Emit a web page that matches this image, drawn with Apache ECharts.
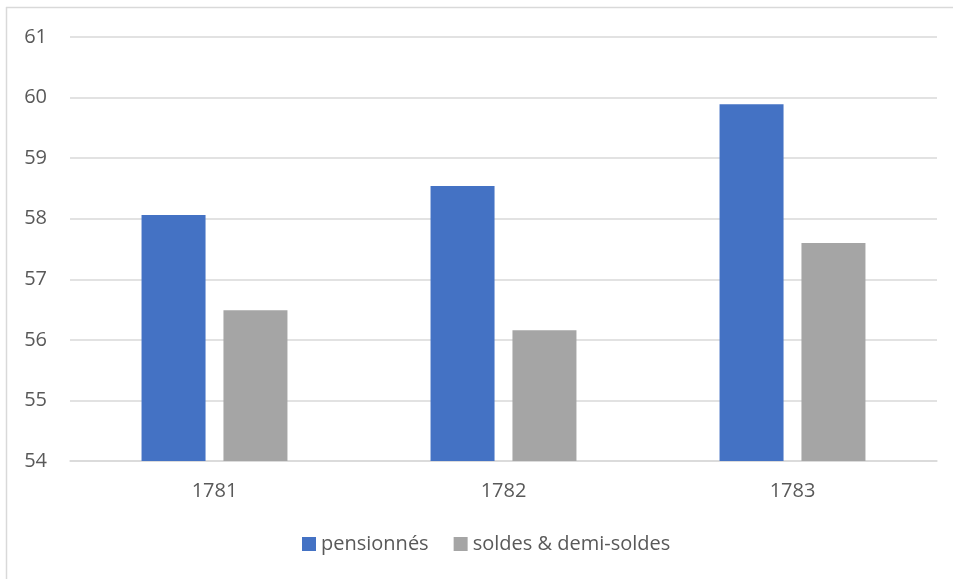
<!DOCTYPE html>
<html>
<head>
<meta charset="utf-8">
<script src="https://cdn.jsdelivr.net/npm/echarts@6/dist/echarts.min.js"></script>
<style>
  html, body { margin: 0; padding: 0; background: #fff; }
  #chart { width: 953px; height: 579px; }
</style>
</head>
<body>
<div id="chart"></div>
<script>
const years = ["1781", "1782", "1783"];
const pensionnes = [58.06, 58.54, 59.89];
const soldes = [56.49, 56.16, 57.60];
const yTicks = { min: 54, max: 61, step: 1 };

const chart = echarts.init(document.getElementById("chart"));
const font = "'Open Sans', sans-serif";

chart.setOption({
  animation: false,
  textStyle: { fontFamily: font },
  graphic: [
    // chart frame, only top and left edges visible in the picture
    { type: "line", shape: { x1: 6, y1: 7.5, x2: 953, y2: 7.5 }, style: { stroke: "#d9d9d9", lineWidth: 1.5 } },
    { type: "line", shape: { x1: 6.5, y1: 7, x2: 6.5, y2: 579 }, style: { stroke: "#d9d9d9", lineWidth: 1.5 } }
  ],
  grid: { left: 70, right: 16, top: 37, bottom: 118, containLabel: false },
  legend: {
    bottom: 20,
    left: 297,
    itemWidth: 14,
    itemHeight: 14,
    itemGap: 25,
    icon: "rect",
    textStyle: { color: "#595959", fontSize: 20, fontFamily: font },
    data: ["pensionnés", "soldes & demi-soldes"]
  },
  xAxis: {
    type: "category",
    data: years,
    axisLine: { show: true, lineStyle: { color: "#d9d9d9", width: 1.5 } },
    axisTick: { show: false },
    axisLabel: { color: "#595959", fontSize: 20, margin: 20 }
  },
  yAxis: {
    type: "value",
    min: yTicks.min,
    max: yTicks.max,
    interval: yTicks.step,
    axisLine: { show: false },
    axisTick: { show: false },
    axisLabel: { color: "#595959", fontSize: 20, margin: 23 },
    splitLine: { lineStyle: { color: "#d9d9d9", width: 1.5 } }
  },
  series: [
    {
      name: "pensionnés",
      type: "bar",
      data: pensionnes,
      barWidth: 64,
      barGap: "28%",
      itemStyle: { color: "#4472c4" }
    },
    {
      name: "soldes & demi-soldes",
      type: "bar",
      data: soldes,
      barWidth: 64,
      itemStyle: { color: "#a5a5a5" }
    }
  ]
});
</script>
</body>
</html>
